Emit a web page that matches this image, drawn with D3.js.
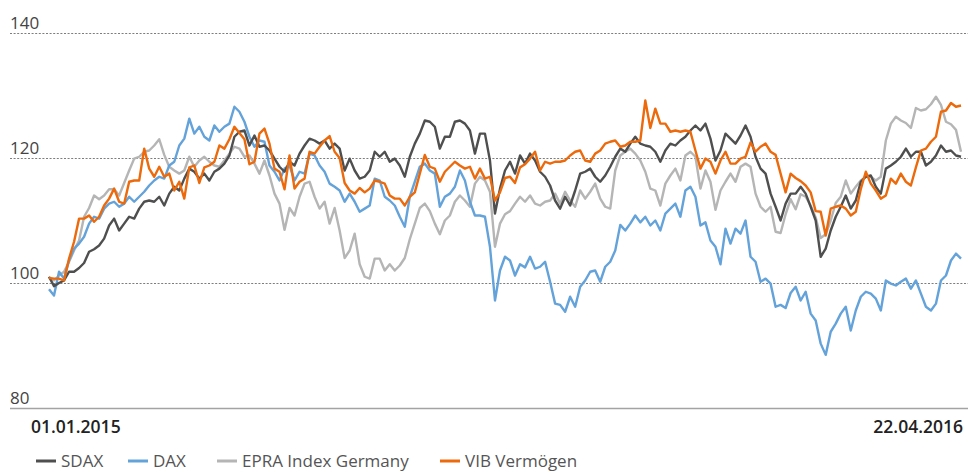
<!DOCTYPE html>
<html>
<head>
<meta charset="utf-8">
<script src="https://cdn.jsdelivr.net/npm/d3@7/dist/d3.min.js"></script>
<style>
  body { margin: 0; background: #fff; }
  svg { display: block; font-family: "Open Sans", sans-serif; }
</style>
</head>
<body>
<svg id="chart" width="968" height="472"></svg>
<script>
// Index values (start = 100), roughly every 2.6 days
var sdax = [
  101, 99.5, 100, 100.4, 101.8, 101.8, 102.4, 103.2, 105, 105.4,
  106, 107.1, 109.2, 110.3, 108.4, 109.5, 110.6, 110.3, 111.9, 113,
  113.2, 113, 113.8, 112.4, 114.3, 115.4, 114.8, 116.7, 118.3, 117.8,
  116.7, 117.5, 116.4, 117.8, 118.3, 119.1, 120.4, 123.4, 124.2, 124.4,
  122,
  123.6, 121.8, 122, 121.2, 119.9, 118.6, 117.8, 119.4, 118.8, 120.7,
  122, 123.1, 122.8, 122.3, 122.8, 121.5, 122.3, 121.5, 118, 119.9,
  118, 116.7, 117, 118, 121, 120.2, 121, 119.4, 119.9, 118.8,
  117, 120.2, 122.3, 123.9, 126, 125.8, 125, 121.5, 123.4, 123.4,
  125.8, 126, 125.5, 124.4, 120.7, 123.9,
  123.9, 119.6, 111.1, 115.1, 118, 119.4, 117.5, 120.4, 119.1, 120.7,
  119.6, 117.8, 117, 115.6, 113.2, 111.9, 113.8, 112.4, 114.8, 117.5,
  117.8, 118.3, 117, 116.2, 117.2, 118.6, 120.2, 121.5, 121, 122.3,
  123.4, 122.3, 122, 121.8, 121, 119.4, 121.2, 122.3, 122, 122.8,
  123.4, 124.4, 125.2, 124.4, 125.5, 123.1, 119.6, 121.2,
  123.9, 123.1, 122.3, 123.6, 125.2, 123.4, 120.2, 118.3, 117.5, 114.3,
  112.2, 110, 112.7, 114.3, 114.3, 115.4, 114.3, 112.2, 110, 104.2,
  105.5, 108.4, 110.6, 112.2, 114, 111.9, 113.2, 116.2, 117, 117.2,
  115.4, 114.3, 118.3, 118.8, 119.4, 120.2, 121.5, 120.2, 121, 121,
  118.8, 119.4, 120.4, 122, 121, 121.2, 120.4, 120.2
];

var dax = [
  99, 98, 101.8, 100.7, 103.6, 105.5, 106.3, 107.4, 109.5, 110.6,
  110.3, 111.9, 112.7, 113, 112.2, 112.7, 113.8, 113, 113.8, 114.6,
  115.6, 116.4, 117, 116.7, 118.8, 119.4, 122, 123.1, 126.3, 123.9,
  125, 123.4, 122.8, 125.2, 124.2, 125, 125.5, 128.2, 127.4, 125.8,
  123.4,
  121.8, 122.8, 122.6, 118.8, 117.8, 116.4, 118.3, 118.8, 116.4, 117.8,
  117.5, 120.7, 120.4, 118.8, 117.8, 115.9, 115.4, 114.8, 113, 114.3,
  113, 111.4, 111.9, 112.4, 116.7, 116.4, 113.8, 113.2, 112.4, 110.6,
  109, 113.8, 116.2, 118.6, 119.1, 118, 117.5, 112.2, 113.8, 114.3,
  115.4, 118, 116.4, 113, 110.8, 110.8,
  110.6, 105.8, 97.2, 102, 104.2, 103.6, 101.2, 103, 102.5, 104.2,
  102.3, 102.6, 103.4, 100.2, 96.7, 96.5, 95.4, 97.8, 96.2, 99.4,
  100.4, 101.8, 102, 100.2, 102.6, 103.4, 105.2, 109.3, 108.4, 109.5,
  110.8, 109.7, 110.6, 109.2, 110, 108.4, 111.1, 111.9, 112.7, 110.6,
  114.8, 115.4, 113.8, 109.2, 109.7, 106.8, 105.8, 103,
  108.7, 106.3, 108.7, 107.9, 110, 104.2, 103.4, 100.2, 100.7, 99.9,
  96.2, 96.5, 96, 98.4, 99.4, 97.2, 98.6, 95.1, 94, 90.3,
  88.5, 92.2, 93.5, 95.1, 96.2, 92.4, 95.6, 97.8, 98.6, 98.3,
  97.5, 95.6, 100.4, 99.9, 99.6, 100.2, 100.7, 99.1, 100.4, 98.3,
  96.2, 95.6, 96.7, 100.4, 101.2, 103.6, 104.7, 103.9
];

var epra = [
  100.8, 100.4, 101.2, 101.8, 103.4, 105.2, 106.8, 110.6, 112, 114,
  113.4, 114, 115, 115, 114, 116, 118, 119.9, 120.2, 121,
  121.2, 122, 123, 120.5, 118.6, 118, 117.5, 118, 120.2, 118.6,
  119.6, 120.2, 119.4, 118.8, 118.6, 119.6, 120.7, 121.8, 121.5, 120.2,
  120.4,
  119.1, 117.5, 119.6, 117.2, 114.3, 112.7, 108.5, 112, 110.8, 113.8,
  115.9, 116.2, 113.8, 111.9, 113, 109.5, 112, 108.4, 104, 105.2,
  107.9, 103, 101, 100.7, 103.9, 103.9, 102, 103, 102, 102.8,
  104, 107, 109.5, 112, 112.7, 111.5, 109.5, 107.8, 110, 110.8,
  113, 114, 113.2, 112.2, 115.9, 117,
  116.4, 114.6, 105.8, 109.5, 111, 111.5, 112.7, 113.8, 113, 114,
  112.7, 112.4, 113, 113.2, 114.3, 112.7, 114.6, 113.2, 112.2, 114.8,
  113.5, 114.6, 115.9, 113.5, 112.2, 111.9, 118, 120.4, 121, 121.5,
  120.7, 119.6, 117.8, 115.1, 114.8, 112.4, 115.9, 117.2, 118.3, 116.4,
  120.4, 121, 120.2, 115.1, 118, 116.2, 111.7, 114.8,
  116.2, 117.5, 116.2, 118.6, 119.1, 118.6, 114.3, 112.2, 111.4, 112.2,
  108.2, 108, 111, 113.4, 111.8, 114.2, 113.8, 112.4, 110.5, 107.2,
  107.8, 110, 112.8, 113.8, 116.4, 114.3, 115.4, 116.4, 117, 117,
  116.4, 117, 122.8, 125.5, 126.6, 126, 125.6, 124.8, 128, 127.6,
  127.8, 128.6, 129.8, 128.5, 125.8, 125.4, 124.5, 121
];

var vib = [
  100.8, 100.7, 100.7, 100.4, 103.9, 106.6, 110.3, 110.3, 110.8, 109.8,
  110.6, 112.4, 113.5, 115.1, 113, 112.7, 116.2, 116.4, 116.4, 121.5,
  118.3, 117, 118.6, 117, 117.5, 114.8, 116.2, 113.5, 118.5, 118.8,
  116, 118.5, 118.8, 119.4, 122, 121.5, 123, 125, 124, 123,
  119,
  119.4, 123.9, 124.7, 122.3, 118.3, 117.8, 115, 120.4, 115.1, 116.2,
  116.7, 121, 120.7, 121.8, 122.8, 123.5, 121, 120, 116, 114.8,
  114.3, 115.2, 114.5, 115.1, 116.4, 116.2, 115.9, 114, 113.5, 113.5,
  112.4, 113.8, 114.5, 117.5, 120.5, 118.6, 118.3, 116.2, 117.8, 118.6,
  119.4, 118.8, 118.3, 118.6, 116.7, 118.3,
  116.7, 117, 113.2, 114.5, 116.8, 117, 116, 118.5, 119, 119.9,
  121, 118, 119.4, 119.1, 119.4, 119.4, 119.6, 120.4, 121, 121.2,
  119.6, 119.4, 120.7, 121.2, 122.3, 122.6, 122.8, 121.8, 122, 122.6,
  122.6, 122.8, 129.2, 124.8, 127.9, 125.5, 125.5, 124.2, 124.4, 124.2,
  124.4, 124.2, 121.2, 118.3, 119.9, 119.4, 117.5, 119.6,
  121, 119.1, 119.1, 119.9, 120.2, 122.5, 121, 121.8, 122.3, 121,
  120.5, 117.5, 114.5, 117.5, 116.8, 116.3, 115.6, 114.5, 111.5, 111.4,
  107.6, 111.9, 112.2, 112.4, 111.9, 110.8, 111.4, 115, 117.8, 115.9,
  114.8, 113.5, 114, 116.7, 115.9, 117.5, 116.2, 115.6, 118.5, 121.2,
  121.5, 122.6, 123.4, 127.4, 127.6, 128.8, 128.2, 128.4
];

var yTicks = [80, 100, 120, 140];
var startLabel = "01.01.2015";
var endLabel = "22.04.2016";

var series = [
  { name: "EPRA Index Germany", values: epra, color: "#b5b5b5" },
  { name: "DAX", values: dax, color: "#64a2da" },
  { name: "SDAX", values: sdax, color: "#4f4f4f" },
  { name: "VIB Vermögen", values: vib, color: "#ec6a0c" }
];
var legendOrder = ["SDAX", "DAX", "EPRA Index Germany", "VIB Vermögen"];

var svg = d3.select("#chart");
var width = 968;

var x = d3.scaleLinear()
          .domain([0, sdax.length - 1])
          .range([49, 961]);

var y = d3.scaleLinear()
          .domain([80, 140])
          .range([408, 33]);

// Grid lines with labels sitting on top of them
var grid = svg.append("g")
              .attr("transform", "translate(10,0)")
              .call(d3.axisRight(y)
                      .tickValues(yTicks)
                      .tickSize(width - 10)
                      .tickFormat(d3.format("d")));

grid.select(".domain").remove();
grid.selectAll(".tick line")
    .attr("stroke", function(d) { return d === 80 ? "#a3a3a3" : "#7d7d7d"; })
    .attr("stroke-width", function(d) { return d === 80 ? 1.6 : 1; })
    .attr("stroke-dasharray", function(d) { return d === 80 ? null : "2,1.6"; });
grid.selectAll(".tick text")
    .attr("x", 0)
    .attr("dy", "-5")
    .attr("text-anchor", "start")
    .attr("fill", "#444")
    .style("font-family", "'Open Sans', sans-serif")
    .style("font-size", "17px");

// Date labels under the axis
svg.append("text")
    .attr("x", 31)
    .attr("y", 433)
    .attr("font-size", "17.5px")
    .attr("font-weight", 600)
    .attr("fill", "#222")
    .text(startLabel);

svg.append("text")
    .attr("x", 963)
    .attr("y", 433)
    .attr("font-size", "17.5px")
    .attr("font-weight", 600)
    .attr("fill", "#222")
    .style("text-anchor", "end")
    .text(endLabel);

// Lines
var line = d3.line()
             .x(function(d, i) { return x(i); })
             .y(function(d) { return y(d); });

svg.append("g")
    .selectAll("path")
    .data(series)
    .enter()
    .append("path")
      .attr("fill", "none")
      .attr("stroke", function(d) { return d.color; })
      .attr("stroke-width", 2.4)
      .attr("stroke-linejoin", "round")
      .attr("d", function(d) { return line(d.values); });

// Legend
var legendX = [36, 128, 217, 440];
var legend = svg.append("g")
                .selectAll("g")
                .data(legendOrder)
                .enter()
                .append("g")
                  .attr("transform", function(d, i) { return "translate(" + legendX[i] + ",461)"; });

legend.append("line")
      .attr("x1", 0)
      .attr("x2", 20)
      .attr("stroke", function(d) { return series.find(function(s) { return s.name === d; }).color; })
      .attr("stroke-width", 3);

legend.append("text")
      .attr("x", 25)
      .attr("y", 6)
      .attr("font-size", "17px")
      .attr("fill", "#555")
      .text(function(d) { return d; });
</script>
</body>
</html>
